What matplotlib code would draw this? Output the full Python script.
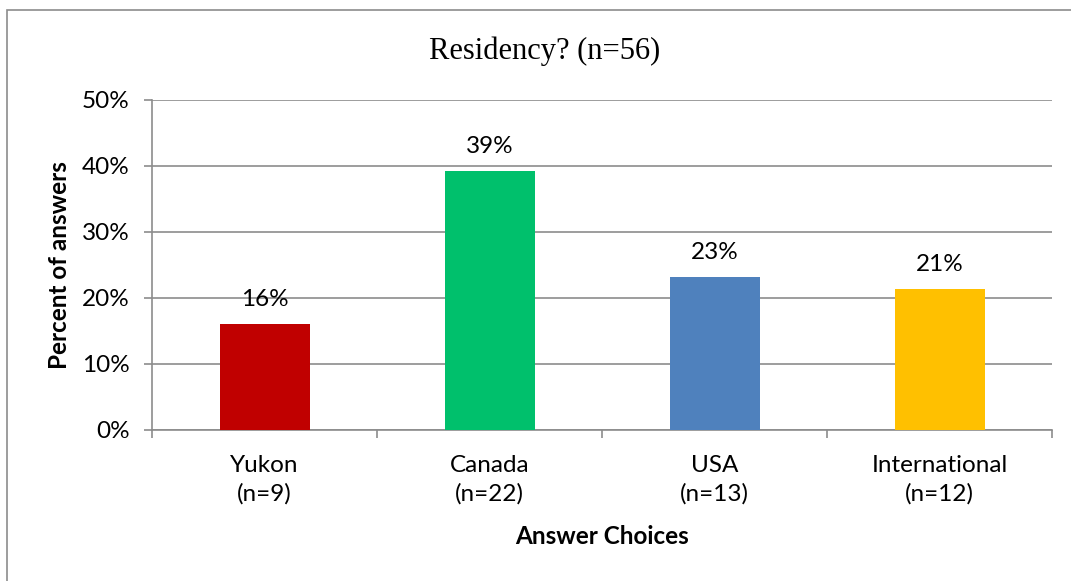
import matplotlib.pyplot as plt
import matplotlib.patches as mpatches
import numpy as np

categories = ['Yukon\n(n=9)', 'Canada\n(n=22)', 'USA\n(n=13)', 'International\n(n=12)']
counts = [9, 22, 13, 12]
total = 56
colors = ['#C00000', '#00C06C', '#4F81BD', '#FFC000']

pct = [c / total * 100 for c in counts]

plt.rcParams['font.family'] = ['Lato', 'DejaVu Sans']
fs = 17.5

fig = plt.figure(figsize=(10.71, 5.81), dpi=100)
ax = fig.add_axes([152 / 1071, 1 - 430 / 581, 900 / 1071, 330 / 581])

x = np.arange(len(categories))
ax.bar(x, pct, width=0.4, color=colors, zorder=3)
for xi, p in zip(x, pct):
    ax.annotate('{:.0f}%'.format(p), (xi, p), xytext=(0, 10), textcoords='offset points',
                ha='center', va='bottom', fontsize=fs)

ax.set_xlim(-0.5, 3.5)
ax.set_ylim(0, 50)
ax.set_yticks(range(0, 51, 10))
ax.set_yticklabels(['{}%'.format(v) for v in range(0, 51, 10)], fontsize=fs)
ax.yaxis.grid(True, color='#8c8c8c', lw=1.2, zorder=0)
ax.tick_params(axis='y', length=6, color='#8c8c8c', width=1.2, pad=10)

ax.set_xticks(x)
ax.set_xticklabels(categories, fontsize=fs, linespacing=1.4)
ax.tick_params(axis='x', length=0, pad=18)
ax.set_xticks(np.arange(-0.5, 4, 1), minor=True)
ax.tick_params(axis='x', which='minor', length=6, color='#8c8c8c', width=1.2)

for s in ['top', 'right']:
    ax.spines[s].set_visible(False)
for s in ['left', 'bottom']:
    ax.spines[s].set_color('#8c8c8c')
    ax.spines[s].set_linewidth(1.2)

ax.set_ylabel('Percent of answers', fontsize=fs, fontweight='bold', labelpad=8)
ax.set_xlabel('Answer Choices', fontsize=fs, fontweight='bold', labelpad=15)

fig.text(545 / 1071, 1 - 51 / 581, 'Residency? (n=56)', family='Liberation Serif',
         fontsize=22, ha='center', va='center')

fig.patches.append(mpatches.Rectangle((7 / 1071, -0.1), 1.2, 1 - 10 / 581 + 0.1,
                                      transform=fig.transFigure, fill=False,
                                      edgecolor='#8c8c8c', lw=1.2))

fig.savefig('out.png', dpi=100)
